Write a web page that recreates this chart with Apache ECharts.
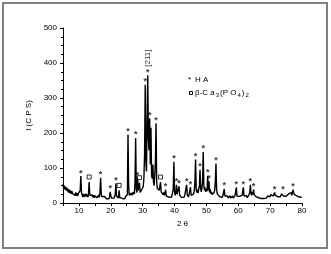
<!DOCTYPE html>
<html>
<head>
<meta charset="utf-8">
<script src="https://cdn.jsdelivr.net/npm/echarts@6/dist/echarts.min.js"></script>
<style>
  html, body { margin: 0; padding: 0; background: #fff; }
  #main { width: 331px; height: 254px; }
</style>
</head>
<body>
<div id="main"></div>
<script>
// XRD pattern, 2theta from 5 to 80 in 0.2 deg steps
var thetaStart = 5, thetaStep = 0.2;
var intensity = [
  55, 42, 50, 38, 46,   36, 44, 33, 40, 30,   38, 28, 35, 26, 34,   27, 32, 24, 31, 22,   30, 21, 28, 20, 27,
  22, 28, 36, 77, 30,   24, 18, 26, 17, 25,   19, 27, 18, 24, 17,   26, 60, 22, 17, 24,   18, 23, 16, 22, 15,
  21, 16, 22, 15, 20,   17, 22, 16, 30, 72,   26, 18, 14, 20, 13,   19, 14, 18, 12, 17,   13, 16, 12, 18, 32,
  22, 14, 17, 13, 16,   14, 18, 24, 56, 20,   15, 18, 14, 36, 16,   19, 14, 17, 13, 18,   14, 16, 12, 18, 15,
  19, 24, 196, 50, 22,  26, 20, 28, 22, 30,   24, 32, 26, 60, 186,  40, 30, 70, 36, 48,   58, 30, 26, 32, 40,
  36, 48, 75, 140, 338, 120, 90, 250, 365, 180, 150, 242, 110, 215, 80, 70, 110, 60, 50, 80, 120, 228, 60, 42, 38,
  45, 36, 40, 60, 32,   28, 32, 24, 30, 22,   26, 38, 20, 24, 18,   22, 17, 20, 15, 19,   16, 22, 18, 40, 118,
  32, 22, 28, 52, 25,   20, 26, 48, 22, 18,   22, 16, 20, 15, 19,   16, 22, 18, 24, 52,   24, 23, 17, 21, 16,
  45, 22, 18, 24, 20,   26, 35, 60, 124, 40,  30, 38, 28, 40, 48,   95, 42, 32, 44, 60,   146, 48, 36, 44, 32,
  40, 34, 78, 36, 62,   30, 40, 26, 32, 24,   28, 22, 30, 36, 60,   113, 40, 26, 30, 22,  24, 18, 22, 17, 20,
  16, 22, 18, 40, 20,   17, 22, 15, 20, 14,   19, 15, 21, 14, 18,   15, 20, 14, 19, 16,   22, 18, 45, 20, 16,
  21, 15, 19, 14, 20,   16, 22, 18, 45, 20,   17, 23, 16, 21, 15,   20, 16, 24, 30, 52,   28, 22, 30, 24, 38,
  24, 20, 26, 18, 22,   17, 21, 15, 19, 14,   18, 13, 17, 12, 16,   13, 17, 12, 18, 14,   16, 20, 15, 19, 22,
  18, 24, 19, 22, 26,   20, 25, 30, 22, 26,   21, 24, 18, 22, 19,   23, 18, 22, 26, 24,   30, 20, 25, 21, 24,
  19, 23, 18, 22, 26,   21, 28, 24, 30, 22,   26, 38, 30, 24, 28,   22, 26, 20, 24, 18,   22, 17, 20, 15, 18,
  16
];

// peak assignments
var haPeaks = [10.6, 16.8, 19.8, 21.6, 25.4, 27.8, 28.4, 30.8, 31.6, 32.2, 34.2, 37.2, 39.8, 40.6, 41.4,
               43.8, 45.0, 46.6, 48.0, 49.0, 50.4, 50.8, 53.0, 55.6, 59.4, 61.6, 63.8, 64.8, 71.4, 74.0, 77.2];
var tcpPeaks = [13.2, 22.6, 29.0, 35.6];
var hklPeak = 31.6, hklLabel = '[211]';

var xTicks = [10, 20, 30, 40, 50, 60, 70, 80];

var pattern = [];
for (var i = 0; i < intensity.length; i++) {
    pattern.push([+(thetaStart + i * thetaStep).toFixed(1), intensity[i]]);
}
function peakPoint(t) {
    var idx = Math.round((t - thetaStart) / thetaStep);
    return [t, intensity[idx]];
}

var font = 'Liberation Sans, Arial, sans-serif';
var chart = echarts.init(document.getElementById('main'));
chart.setOption({
    animation: false,
    backgroundColor: '#fff',
    grid: { left: 63, right: 29, top: 28, bottom: 51 },
    xAxis: {
        type: 'value',
        min: 5, max: 80,
        interval: 5,
        name: '2 θ',
        nameLocation: 'middle',
        nameGap: 15,
        nameTextStyle: { fontFamily: font, fontSize: 8, color: '#000' },
        axisLine: { lineStyle: { color: '#000', width: 1 } },
        axisTick: { length: 3, lineStyle: { color: '#000' } },
        axisLabel: {
            fontFamily: font, fontSize: 8, color: '#000', margin: 4,
            formatter: function (v) { return xTicks.indexOf(v) >= 0 ? v : ''; }
        },
        splitLine: { show: false }
    },
    yAxis: {
        type: 'value',
        min: 0, max: 500, interval: 100,
        name: 'I (C P S)',
        nameLocation: 'middle',
        nameGap: 23,
        nameTextStyle: { fontFamily: font, fontSize: 8, color: '#000' },
        axisLine: { show: true, lineStyle: { color: '#000', width: 1 } },
        axisTick: { show: true, length: 3, lineStyle: { color: '#000' } },
        minorTick: { show: true, splitNumber: 4, length: 2, lineStyle: { color: '#000' } },
        axisLabel: { fontFamily: font, fontSize: 8, color: '#000', margin: 6 },
        splitLine: { show: false }
    },
    series: [
        {
            name: 'pattern',
            type: 'line',
            data: pattern,
            showSymbol: false,
            symbol: 'none',
            lineStyle: { color: '#000', width: 1.4 }
        },
        {
            name: 'HA',
            type: 'scatter',
            data: haPeaks.map(peakPoint),
            symbolSize: 1,
            itemStyle: { color: 'rgba(0,0,0,0)' },
            label: {
                show: true, position: 'top', distance: -2,
                formatter: '*', fontFamily: font, fontSize: 9, fontWeight: 'bold', color: '#000'
            }
        },
        {
            name: 'TCP',
            type: 'scatter',
            data: tcpPeaks.map(peakPoint),
            symbol: 'rect',
            symbolSize: 4,
            symbolOffset: [0, -5],
            itemStyle: { color: '#fff', borderColor: '#000', borderWidth: 1 }
        },
        {
            name: 'hkl',
            type: 'scatter',
            data: [peakPoint(hklPeak)],
            symbolSize: 1,
            itemStyle: { color: 'rgba(0,0,0,0)' },
            label: {
                show: true, position: 'top', distance: 8, rotate: 90, align: 'left', verticalAlign: 'middle',
                formatter: hklLabel, fontFamily: font, fontSize: 8, color: '#000'
            }
        }
    ],
    graphic: [
        {
            type: 'rect', silent: true,
            shape: { x: 3, y: 3, width: 324, height: 245 },
            style: { fill: 'none', stroke: '#808080', lineWidth: 2 }
        },
        {
            type: 'text', left: 188, top: 76,
            style: { text: '*', fontFamily: font, fontSize: 8, fill: '#000' }
        },
        {
            type: 'text', left: 195, top: 76,
            style: { text: 'H A', fontFamily: font, fontSize: 8, fill: '#000' }
        },
        {
            type: 'rect', silent: true,
            shape: { x: 189.5, y: 91.5, width: 3, height: 3 },
            style: { fill: '#fff', stroke: '#000', lineWidth: 1 }
        },
        {
            type: 'text', left: 195, top: 89,
            style: {
                text: '{n|β-C a}{s|3}{n|(P O}{s|4}{n|)}{s|2}',
                rich: {
                    n: { fontFamily: font, fontSize: 8, fill: '#000' },
                    s: { fontFamily: font, fontSize: 6, fill: '#000', padding: [5, 1, 0, 1] }
                }
            }
        }
    ]
});
</script>
</body>
</html>
